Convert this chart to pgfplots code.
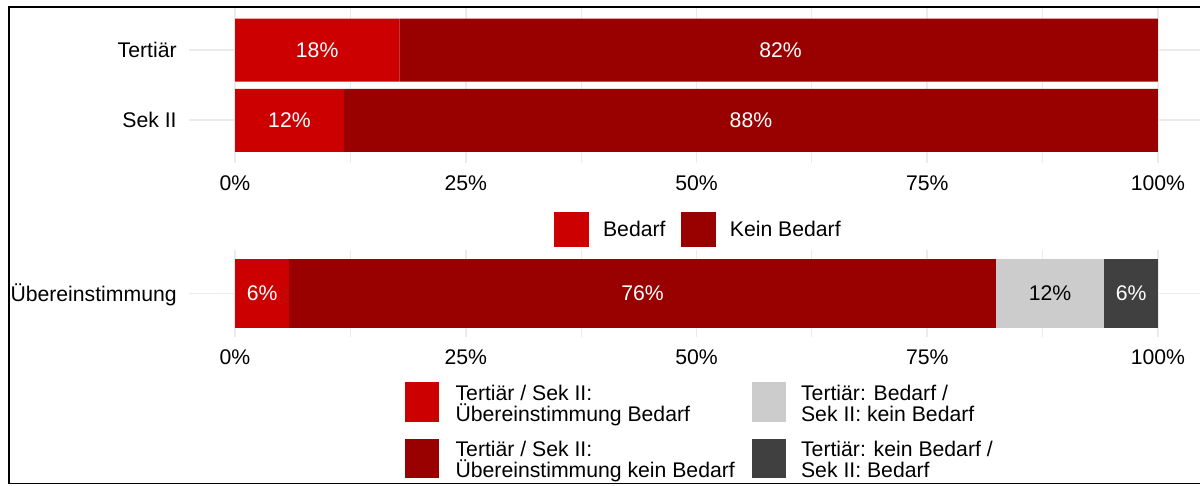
\documentclass[border=0pt]{standalone}
\usepackage{fontspec}
\setmainfont{Liberation Sans}
\usepackage{pgfplots}
\pgfplotsset{compat=1.18}
\definecolor{cred}{HTML}{CC0000}
\definecolor{cdark}{HTML}{990000}
\definecolor{clight}{HTML}{CCCCCC}
\definecolor{cgrey}{HTML}{404040}
\definecolor{gridc}{HTML}{EBEBEB}
\tikzset{lgt/.style={anchor=base west, inner sep=0pt, text=black, font=\fontsize{21.2pt}{24pt}\selectfont}}
\pgfplotsset{
  panel/.style={scale only axis, width=1015.3pt, xmin=-5, xmax=105, anchor=south west},
  gridpanel/.style={
    xbar stacked, bar width=0.9,
    axis line style={draw=none}, major tick length=0pt, minor tick length=0pt,
    tick style={draw=none},
    xtick={0,25,50,75,100}, xticklabels={0\%,25\%,50\%,75\%,100\%},
    minor xtick={12.5,37.5,62.5,87.5},
    xmajorgrids, xminorgrids, ymajorgrids,
    major grid style={draw=gridc, line width=1.8pt},
    minor grid style={draw=gridc, line width=1pt},
    xticklabel style={anchor=base, inner sep=0pt, yshift=-27.5pt},
    yticklabel style={anchor=base east, inner sep=0pt, xshift=-12pt, yshift=-7.6pt},
    legend style={draw=none, fill=none, inner sep=0pt, column sep=0pt, nodes={inner sep=0pt}},
  },
  lbl/.style={only marks, mark=*, mark size=0pt, mark options={draw=none,fill=none},
    nodes near coords, point meta=explicit symbolic, nodes near coords align={center},
    every node near coord/.append style={text=#1, inner sep=0pt, anchor=center}},
}
\begin{document}
\fontsize{21.2pt}{24pt}\selectfont
\begin{tikzpicture}
\useasboundingbox (0,0) rectangle (1200pt,-485pt);
% ---------- top panel ----------
\begin{axis}[panel, gridpanel, at={(188.85pt,-162.5pt)}, height=154.5pt,
  ymin=-0.6, ymax=1.6, ytick={0,1}, yticklabels={Sek II,Tertiär},
  legend style={at={(axis description cs:0.35965,-0.43042)}, anchor=west},
]
\addlegendimage{legend image code/.code={
  \fill[cred] (0pt,-17pt) rectangle (34pt,17pt);
  \node[lgt] at (48.5pt,-7.6pt) {Bedarf};
  \fill[cdark] (127pt,-17pt) rectangle (161pt,17pt);
  \node[lgt] at (175.3pt,-7.6pt) {Kein Bedarf};
}}
\addlegendentry{\mbox{}}
\addplot[fill=cred, draw=none] coordinates {(11.8,0) (17.8,1)};
\addplot[fill=cdark, draw=none] coordinates {(88.2,0) (82.2,1)};
\end{axis}
\begin{axis}[panel, hide axis, at={(188.85pt,-162.5pt)}, height=154.5pt, ymin=-0.6, ymax=1.6]
\addplot[lbl=white] coordinates {(8.9,1) [18\%] (59.1,1) [82\%] (5.9,0) [12\%] (55.9,0) [88\%]};
\end{axis}
% ---------- bottom panel ----------
\begin{axis}[panel, gridpanel, at={(188.85pt,-337pt)}, height=87pt,
  ymin=-0.56, ymax=0.56, ytick={0}, yticklabels={Übereinstimmung},
  legend style={at={(axis description cs:0.21289,-1.08621)}, anchor=west},
]
\addlegendimage{legend image code/.code={
  \fill[cred]   (0pt,8.5pt) rectangle (33pt,47.5pt);
  \node[lgt] at (50pt,29.5pt) {Tertiär / Sek II:};
  \node[lgt] at (50pt,8.5pt) {Übereinstimmung Bedarf};
  \fill[cdark]  (0pt,-9pt) rectangle (33pt,-47.5pt);
  \node[lgt] at (50pt,-27pt) {Tertiär / Sek II:};
  \node[lgt] at (50pt,-48pt) {Übereinstimmung kein Bedarf};
  \fill[clight] (347pt,8.5pt) rectangle (380pt,47.5pt);
  \node[lgt] at (395.5pt,29.5pt) {Tertiär: Bedarf /};
  \node[lgt] at (395.5pt,8.5pt) {Sek II: kein Bedarf};
  \fill[cgrey]  (347pt,-9pt) rectangle (380pt,-47.5pt);
  \node[lgt] at (395.5pt,-27pt) {Tertiär: kein Bedarf /};
  \node[lgt] at (395.5pt,-48pt) {Sek II: Bedarf};
}}
\addlegendentry{\mbox{}}
\addplot[fill=cred, draw=none] coordinates {(5.9,0)};
\addplot[fill=cdark, draw=none] coordinates {(76.5,0)};
\addplot[fill=clight, draw=none] coordinates {(11.8,0)};
\addplot[fill=cgrey, draw=none] coordinates {(5.8,0)};
\end{axis}
\begin{axis}[panel, hide axis, at={(188.85pt,-337pt)}, height=87pt, ymin=-0.56, ymax=0.56]
\addplot[lbl=white] coordinates {(2.95,0) [6\%] (44.15,0) [76\%] (97.1,0) [6\%]};
\addplot[lbl=black] coordinates {(88.3,0) [12\%]};
\end{axis}
\draw[line width=1.5pt] (9pt,-7pt) rectangle (1230pt,-483.5pt);
\end{tikzpicture}
\end{document}
